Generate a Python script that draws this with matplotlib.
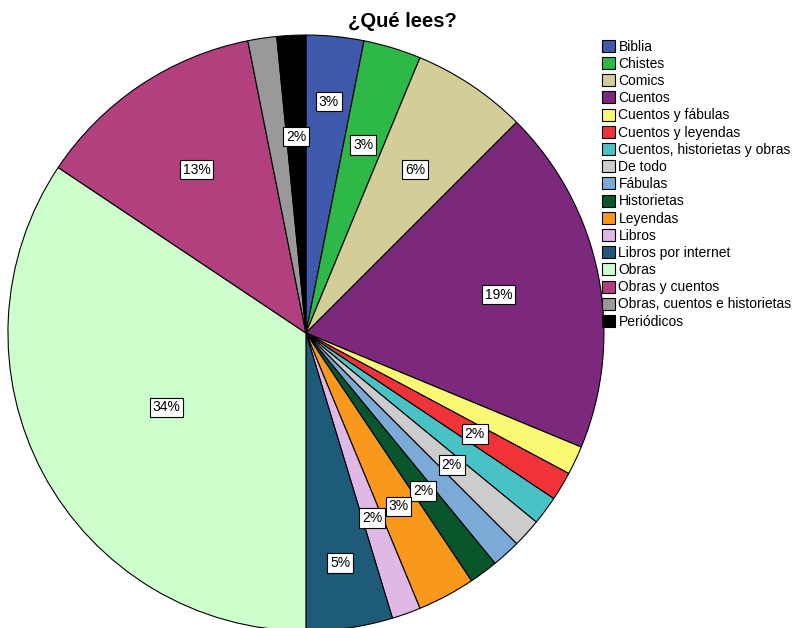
import numpy as np
import matplotlib.pyplot as plt

categories = ["Biblia", "Chistes", "Comics", "Cuentos", "Cuentos y fábulas",
              "Cuentos y leyendas", "Cuentos, historietas y obras", "De todo",
              "Fábulas", "Historietas", "Leyendas", "Libros", "Libros por internet",
              "Obras", "Obras y cuentos", "Obras, cuentos e historietas", "Periódicos"]
counts = [2, 2, 4, 12, 1, 1, 1, 1, 1, 1, 2, 1, 3, 22, 8, 1, 1]
# slices that carry a percentage label in the original
show_label = [True, True, True, True, False, True, False, True,
              False, True, True, True, True, True, True, False, True]

colors = ["#3E58AC", "#2EB848", "#D3CE97", "#7C287D", "#FBF873", "#EF3338",
          "#48C2C5", "#CCCCCC", "#7AAAD5", "#0A562C", "#F8981D", "#DFB8E6",
          "#1D5B78", "#CCFFCC", "#B3407E", "#999999", "#000000"]

plt.rcParams['font.family'] = ['Liberation Sans', 'DejaVu Sans']

fig = plt.figure(figsize=(7.96, 6.28), dpi=100)
ax = fig.add_axes([0.01, -0.0048, 0.7487, 0.949])

wedges, _ = ax.pie(counts, colors=colors, startangle=90, counterclock=False,
                   wedgeprops=dict(edgecolor="black", linewidth=0.8))
ax.set_xlim(-1, 1)
ax.set_ylim(-1, 1)
for w in wedges:
    w.set_clip_on(False)

total = sum(counts)
label_r = {"Biblia": 0.78, "Libros por internet": 0.78, "Obras": 0.53}
for w, name, c, show in zip(wedges, categories, counts, show_label):
    if not show:
        continue
    ang = np.deg2rad((w.theta1 + w.theta2) / 2)
    r = label_r.get(name, 0.66)
    pct = int(c / total * 100 + 0.5)
    ax.text(r * np.cos(ang), r * np.sin(ang), f"{pct}%", ha="center", va="center",
            fontsize=10, bbox=dict(boxstyle="square,pad=0.2", facecolor="white",
                                   edgecolor="black", linewidth=0.8))

fig.text(0.506, 0.965, "¿Qué lees?", ha="center", va="center",
         fontsize=14.5, fontweight="bold")

fig.legend(wedges, categories, loc="upper left", bbox_to_anchor=(0.756, 0.937),
           frameon=False, fontsize=10, handlelength=0.95, handleheight=0.95,
           handletextpad=0.25, labelspacing=0.23, borderpad=0, borderaxespad=0)

fig.savefig("out.png", dpi=100)
